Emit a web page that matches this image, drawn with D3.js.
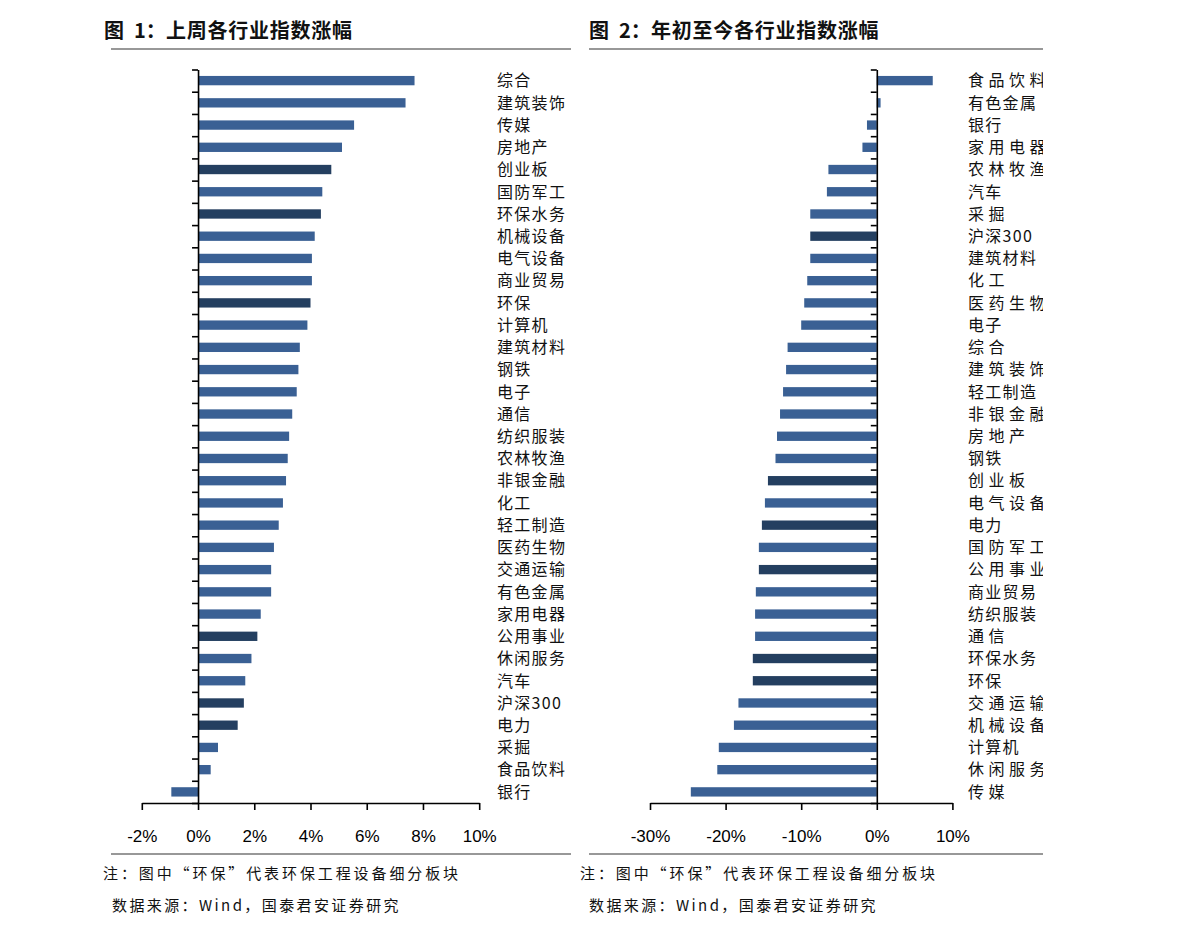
<!DOCTYPE html>
<html>
<head>
<meta charset="utf-8">
<script src="https://cdn.jsdelivr.net/npm/d3@7"></script>
<style>
  body { margin: 0; background: #fff; }
  svg { display: block; }
  .title { font-family: "Noto Sans CJK SC", sans-serif; font-weight: bold; font-size: 20px; fill: #111; }
  .cat { font-family: "Noto Sans CJK SC", sans-serif; font-size: 16px; fill: #111; }
  .foot { font-family: "Noto Sans CJK SC", "Liberation Serif", serif; font-size: 15px; fill: #111; }
  .tick text { font-family: "Liberation Sans", Arial, sans-serif; font-size: 17px; fill: #000; }
  .domain, .tick line { stroke: #000; stroke-width: 1.6; }
</style>
</head>
<body>
<svg id="chart" width="1191" height="935"></svg>
<script>
// 图1 上周各行业指数涨幅 (%)
var weekNames = ["综合","建筑装饰","传媒","房地产","创业板","国防军工","环保水务","机械设备","电气设备","商业贸易","环保","计算机","建筑材料","钢铁","电子","通信","纺织服装","农林牧渔","非银金融","化工","轻工制造","医药生物","交通运输","有色金属","家用电器","公用事业","休闲服务","汽车","沪深300","电力","采掘","食品饮料","银行"];
var weekValues = [7.70,7.38,5.55,5.12,4.74,4.42,4.37,4.15,4.05,4.05,4.00,3.89,3.62,3.57,3.51,3.35,3.24,3.19,3.13,3.02,2.87,2.70,2.60,2.60,2.23,2.11,1.90,1.68,1.63,1.41,0.71,0.45,-0.95];
var weekTicks = [-2,0,2,4,6,8,10];

// 图2 年初至今各行业指数涨幅 (%)
var ytdNames = ["食品饮料","有色金属","银行","家用电器","农林牧渔","汽车","采掘","沪深300","建筑材料","化工","医药生物","电子","综合","建筑装饰","轻工制造","非银金融","房地产","钢铁","创业板","电气设备","电力","国防军工","公用事业","商业贸易","纺织服装","通信","环保水务","环保","交通运输","机械设备","计算机","休闲服务","传媒"];
var ytdValues = [7.4,0.5,-1.3,-1.9,-6.4,-6.6,-8.8,-8.8,-8.8,-9.2,-9.6,-10.0,-11.8,-12.0,-12.4,-12.8,-13.2,-13.4,-14.4,-14.8,-15.2,-15.6,-15.6,-16.0,-16.1,-16.1,-16.4,-16.4,-18.3,-18.9,-20.9,-21.1,-24.6];
var ytdTicks = [-30,-20,-10,0,10];

// 深色标出的指数/板块
var darkNames = ["创业板","环保水务","环保","公用事业","沪深300","电力"];
// 右图中字距较宽的标签
var wideNames = ["食品饮料","家用电器","农林牧渔","采掘","化工","医药生物","综合","建筑装饰","非银金融","房地产","创业板","电气设备","国防军工","公用事业","通信","交通运输","机械设备","休闲服务","传媒"];

var svg = d3.select("#chart");
svg.append("rect").attr("width",1191).attr("height",935).attr("fill","#fff");

svg.append("clipPath").attr("id","rclip")
  .append("rect").attr("x",580).attr("y",0).attr("width",463).attr("height",935);

function drawPanel(o){
  var g = svg.append("g");

  var t = g.append("text").attr("class","title").attr("y", 38);
  t.append("tspan").attr("x", o.titleX).text("图");
  t.append("tspan").attr("x", o.titleX + 30).text(o.num + "：");
  t.append("tspan").attr("x", o.titleX + 62).attr("letter-spacing", 0.75).text(o.title);

  g.append("line").attr("x1", o.lineX1).attr("x2", o.lineX2)
    .attr("y1", 49).attr("y2", 49).attr("stroke","#333").attr("stroke-width",1.2);
  g.append("line").attr("x1", o.lineX1).attr("x2", o.lineX2)
    .attr("y1", 854).attr("y2", 854).attr("stroke","#333").attr("stroke-width",1.2);

  var top = 69.5, bottom = 803;
  var x = d3.scaleLinear().domain(o.domain).range(o.range);
  var y = d3.scaleBand().domain(o.names).range([top, bottom]).paddingInner(0.58).paddingOuter(0.29);
  var yt = d3.scaleLinear().domain([0, o.names.length]).range([top, bottom]);

  g.selectAll("rect.bar")
    .data(o.names)
    .enter()
    .append("rect")
    .attr("class","bar")
    .attr("x", function(d,i){ return x(Math.min(0, o.values[i])); })
    .attr("y", function(d){ return y(d); })
    .attr("width", function(d,i){ return Math.abs(x(o.values[i]) - x(0)); })
    .attr("height", y.bandwidth())
    .attr("fill", function(d){ return darkNames.indexOf(d) >= 0 ? "#243f60" : "#3a6094"; });

  g.append("g")
    .attr("transform","translate(0," + bottom + ")")
    .call(d3.axisBottom(x).tickValues(o.ticks).tickSize(7).tickSizeOuter(0).tickPadding(20)
      .tickFormat(function(d){ return d + "%"; }));

  g.append("g")
    .attr("transform","translate(" + x(0) + ",0)")
    .call(d3.axisLeft(yt).tickValues(d3.range(o.names.length + 1)).tickSize(6).tickSizeOuter(0).tickFormat(""));

  var lab = g.append("g");
  if (o.clip) lab.attr("clip-path","url(#rclip)");
  lab.selectAll("text")
    .data(o.names)
    .enter()
    .append("text")
    .attr("class","cat")
    .attr("x", o.labelX)
    .attr("y", function(d){ return y(d) + y.bandwidth()/2; })
    .attr("dy","0.36em")
    .attr("letter-spacing", function(d){ return o.wide && o.wide.indexOf(d) >= 0 ? 4.5 : 1.3; })
    .text(function(d){ return d; });

  g.append("text").attr("class","foot").attr("x", o.noteX).attr("y", 879)
    .attr("letter-spacing", 2.9)
    .text("注：图中“环保”代表环保工程设备细分板块");
  g.append("text").attr("class","foot").attr("x", o.noteX + 9).attr("y", 911)
    .attr("letter-spacing", 2.4)
    .text("数据来源：Wind，国泰君安证券研究");
}

drawPanel({
  title: "上周各行业指数涨幅", num: "1", titleX: 104,
  lineX1: 111, lineX2: 571,
  names: weekNames, values: weekValues, ticks: weekTicks,
  domain: [-2, 10], range: [141.8, 479.2],
  labelX: 497, noteX: 103
});

drawPanel({
  title: "年初至今各行业指数涨幅", num: "2", titleX: 589,
  lineX1: 589, lineX2: 1043,
  names: ytdNames, values: ytdValues, ticks: ytdTicks,
  domain: [-30, 10], range: [650, 952.4],
  labelX: 968, noteX: 580, clip: true, wide: wideNames
});
</script>
</body>
</html>
